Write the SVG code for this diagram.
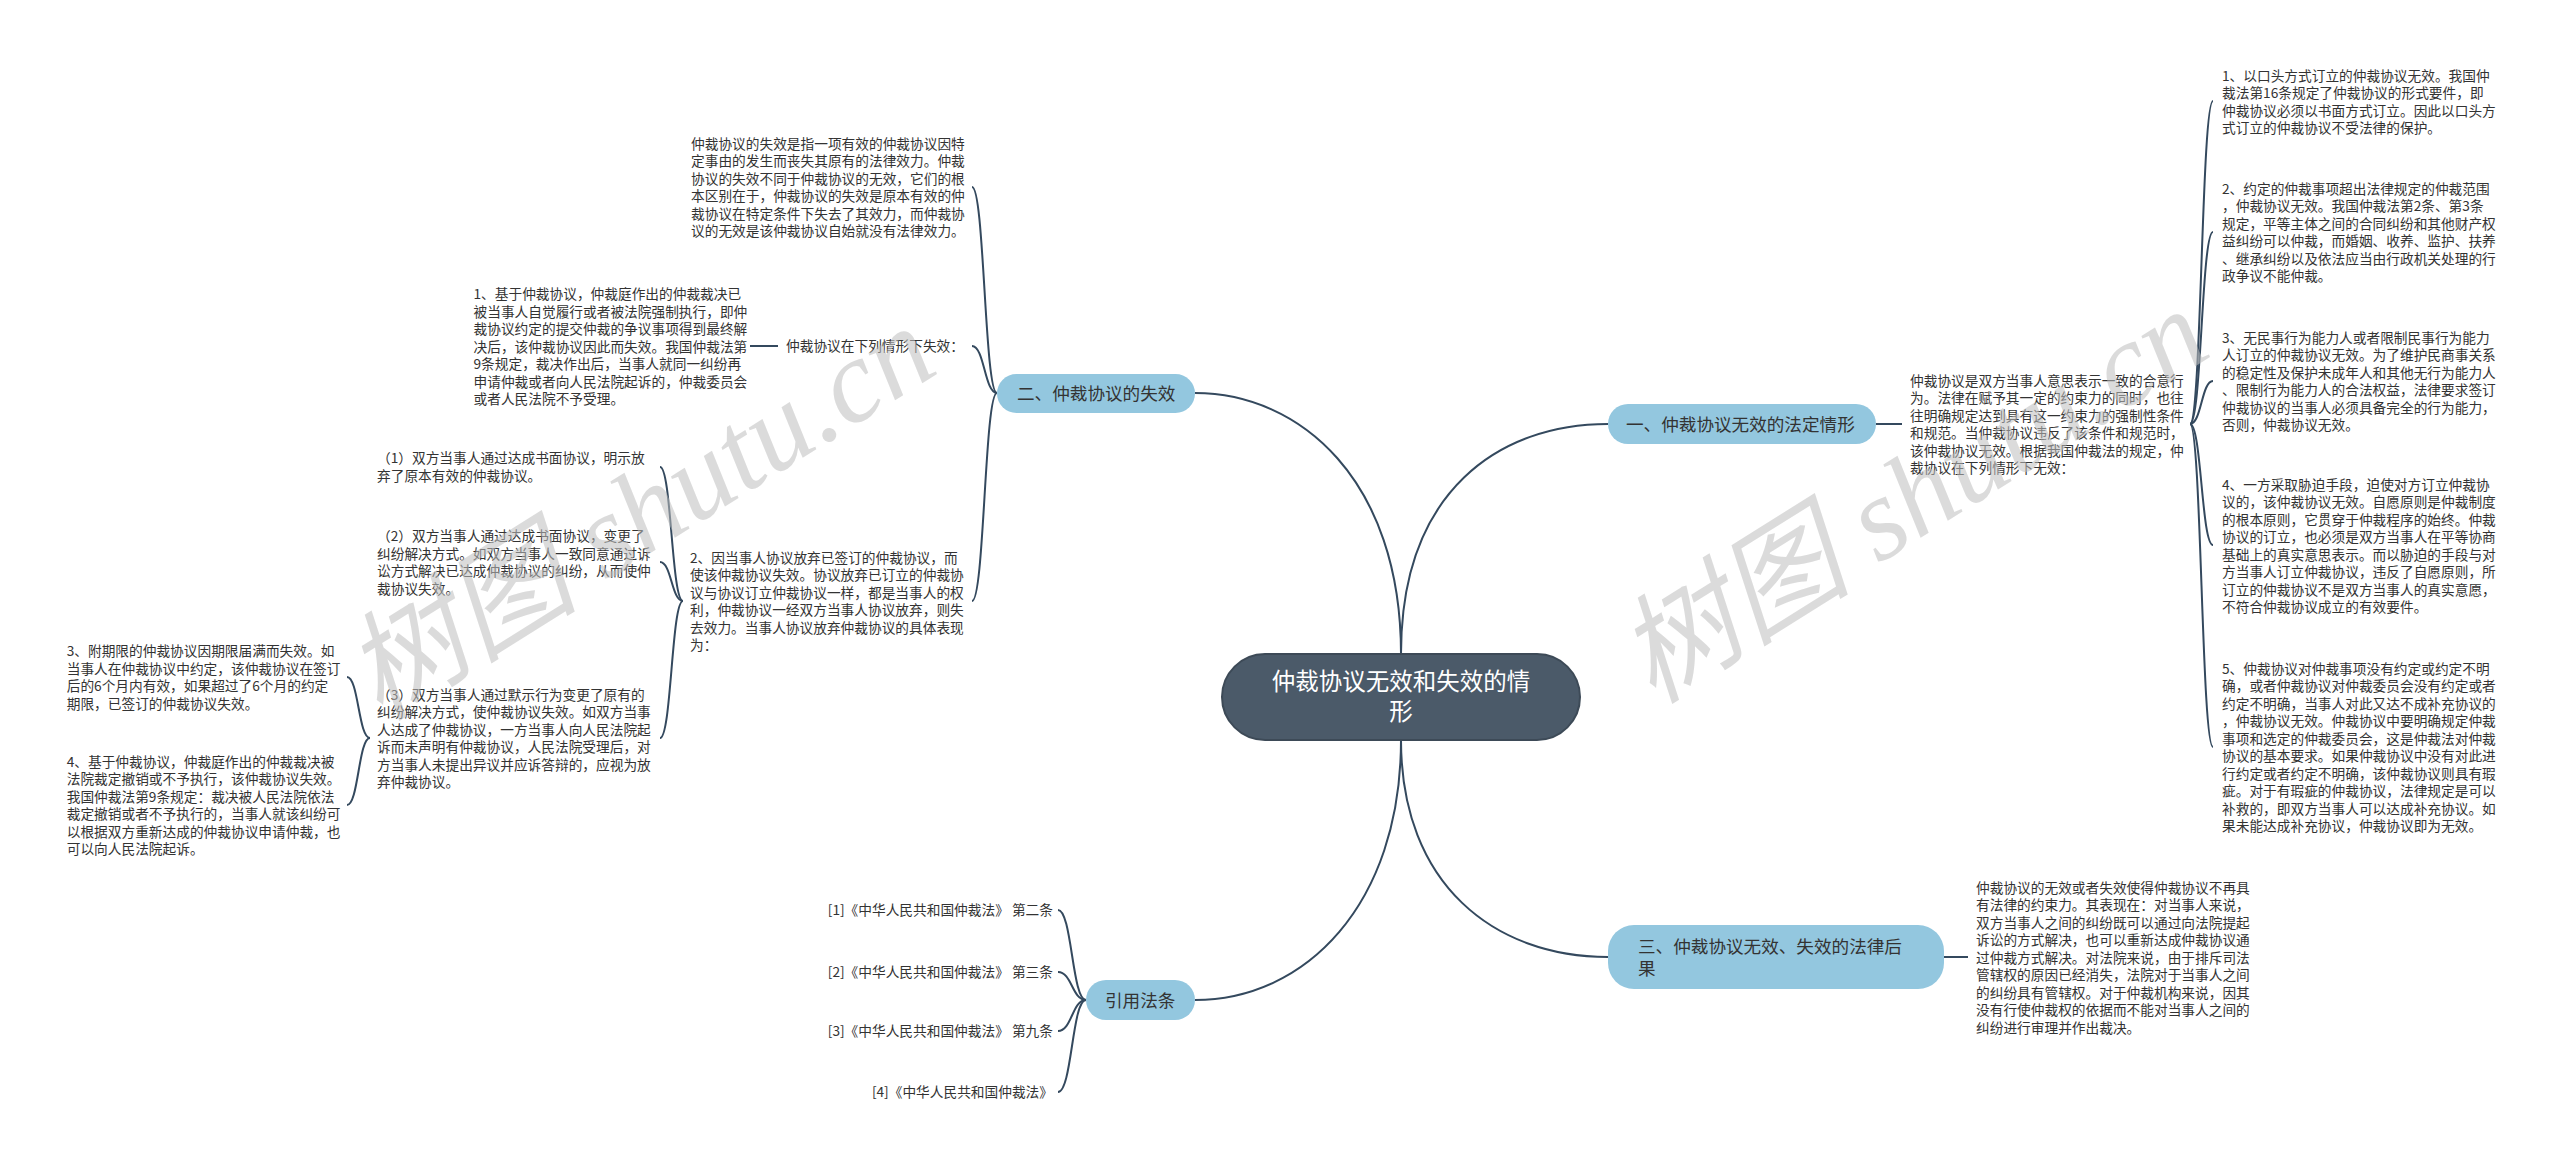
<svg xmlns="http://www.w3.org/2000/svg" width="2560" height="1165" viewBox="0 0 2560 1165">
<style>
.t{font-family:"Noto Sans CJK SC","Noto Sans",sans-serif;font-size:13.7px;fill:#333333;}
.b{font-family:"Noto Sans CJK SC","Noto Sans",sans-serif;font-size:17.6px;fill:#333333;}
.c{font-family:"Noto Sans CJK SC","Noto Sans",sans-serif;font-size:23.5px;fill:#ffffff;}
.bn{fill:#93c7df;}
.cn{fill:#4b5a69;stroke:#3d4a57;stroke-width:2;}
.ln{fill:none;stroke:#34495e;stroke-width:2;}
.wm{font-family:"Liberation Serif","Noto Sans CJK SC",serif;font-style:italic;font-size:118px;fill:#bdbdbd;fill-opacity:0.55;}
</style>
<rect width="2560" height="1165" fill="#ffffff"/>
<g id="connectors">
<path class="ln" d="M1401,654 C1401,480 1300,393 1195,393"/>
<path class="ln" d="M1401,654 C1401,490 1500,424 1608,424"/>
<path class="ln" d="M1401,740 C1401,905 1305,1000 1195,1000"/>
<path class="ln" d="M1401,740 C1401,885 1495,957 1608,957"/>
<path class="ln" d="M997,393 C984.5,393 984.5,187 972,187"/>
<path class="ln" d="M997,393 C984.5,393 984.5,346 972,346"/>
<path class="ln" d="M997,393 C984.5,393 984.5,601 972,601"/>
<path class="ln" d="M778,346 L750,346"/>
<path class="ln" d="M683,601 C671.5,601 671.5,467 660,467"/>
<path class="ln" d="M683,601 C671.5,601 671.5,562 660,562"/>
<path class="ln" d="M683,601 C671.5,601 671.5,738 660,738"/>
<path class="ln" d="M370,738 C358.5,738 358.5,677 347,677"/>
<path class="ln" d="M370,738 C358.5,738 358.5,805 347,805"/>
<path class="ln" d="M1086,1000 C1072,1000 1072,910 1058,910"/>
<path class="ln" d="M1086,1000 C1072,1000 1072,972 1058,972"/>
<path class="ln" d="M1086,1000 C1072,1000 1072,1031 1058,1031"/>
<path class="ln" d="M1086,1000 C1072,1000 1072,1092 1058,1092"/>
<path class="ln" d="M1876,424 L1902,424"/>
<path class="ln" d="M2190,424 C2201.5,424 2201.5,101 2213,101"/>
<path class="ln" d="M2190,424 C2201.5,424 2201.5,232 2213,232"/>
<path class="ln" d="M2190,424 C2201.5,424 2201.5,381 2213,381"/>
<path class="ln" d="M2190,424 C2201.5,424 2201.5,545 2213,545"/>
<path class="ln" d="M2190,424 C2201.5,424 2201.5,747 2213,747"/>
<path class="ln" d="M1944,957 L1968,957"/>
</g>
<g id="center">
<rect class="cn" x="1222" y="654" width="358" height="86" rx="43"/>
<text class="c" x="1401" y="690" text-anchor="middle">仲裁协议无效和失效的情</text>
<text class="c" x="1401" y="720" text-anchor="middle">形</text>
</g>
<g id="branch-2">
<rect class="bn" x="997" y="374" width="198" height="39" rx="19.5"/>
<text class="b" x="1017" y="400">二、仲裁协议的失效</text>
</g>
<g id="branch-1">
<rect class="bn" x="1608" y="404" width="268" height="40" rx="20"/>
<text class="b" x="1626" y="430.5">一、仲裁协议无效的法定情形</text>
</g>
<g id="branch-3">
<rect class="bn" x="1608" y="925" width="336" height="64" rx="26"/>
<text class="b" x="1638" y="952.5">三、仲裁协议无效、失效的法律后</text>
<text class="b" x="1638" y="974.5">果</text>
</g>
<g id="branch-4">
<rect class="bn" x="1086" y="980" width="109" height="40" rx="20"/>
<text class="b" x="1105" y="1006.5">引用法条</text>
</g>
<g id="n-def-loss">
<text class="t" x="691" y="148.5"><tspan x="691">仲裁协议的失效是指一项有效的仲裁协议因特</tspan><tspan x="691" dy="17.5">定事由的发生而丧失其原有的法律效力。仲裁</tspan><tspan x="691" dy="17.5">协议的失效不同于仲裁协议的无效，它们的根</tspan><tspan x="691" dy="17.5">本区别在于，仲裁协议的失效是原本有效的仲</tspan><tspan x="691" dy="17.5">裁协议在特定条件下失去了其效力，而仲裁协</tspan><tspan x="691" dy="17.5">议的无效是该仲裁协议自始就没有法律效力。</tspan></text>
</g>
<g id="n-loss-cases">
<text class="t" x="786" y="351">仲裁协议在下列情形下失效：</text>
</g>
<g id="n-loss-1">
<text class="t" x="473.5" y="299"><tspan x="473.5">1、基于仲裁协议，仲裁庭作出的仲裁裁决已</tspan><tspan x="473.5" dy="17.5">被当事人自觉履行或者被法院强制执行，即仲</tspan><tspan x="473.5" dy="17.5">裁协议约定的提交仲裁的争议事项得到最终解</tspan><tspan x="473.5" dy="17.5">决后，该仲裁协议因此而失效。我国仲裁法第</tspan><tspan x="473.5" dy="17.5">9条规定，裁决作出后，当事人就同一纠纷再</tspan><tspan x="473.5" dy="17.5">申请仲裁或者向人民法院起诉的，仲裁委员会</tspan><tspan x="473.5" dy="17.5">或者人民法院不予受理。</tspan></text>
</g>
<g id="n-loss-2">
<text class="t" x="690" y="562.5"><tspan x="690">2、因当事人协议放弃已签订的仲裁协议，而</tspan><tspan x="690" dy="17.5">使该仲裁协议失效。协议放弃已订立的仲裁协</tspan><tspan x="690" dy="17.5">议与协议订立仲裁协议一样，都是当事人的权</tspan><tspan x="690" dy="17.5">利，仲裁协议一经双方当事人协议放弃，则失</tspan><tspan x="690" dy="17.5">去效力。当事人协议放弃仲裁协议的具体表现</tspan><tspan x="690" dy="17.5">为：</tspan></text>
</g>
<g id="n-waive-1">
<text class="t" x="377" y="463"><tspan x="377">（1）双方当事人通过达成书面协议，明示放</tspan><tspan x="377" dy="17.5">弃了原本有效的仲裁协议。</tspan></text>
</g>
<g id="n-waive-2">
<text class="t" x="377" y="541"><tspan x="377">（2）双方当事人通过达成书面协议，变更了</tspan><tspan x="377" dy="17.5">纠纷解决方式。如双方当事人一致同意通过诉</tspan><tspan x="377" dy="17.5">讼方式解决已达成仲裁协议的纠纷，从而使仲</tspan><tspan x="377" dy="17.5">裁协议失效。</tspan></text>
</g>
<g id="n-waive-3">
<text class="t" x="377" y="699.5"><tspan x="377">（3）双方当事人通过默示行为变更了原有的</tspan><tspan x="377" dy="17.5">纠纷解决方式，使仲裁协议失效。如双方当事</tspan><tspan x="377" dy="17.5">人达成了仲裁协议，一方当事人向人民法院起</tspan><tspan x="377" dy="17.5">诉而未声明有仲裁协议，人民法院受理后，对</tspan><tspan x="377" dy="17.5">方当事人未提出异议并应诉答辩的，应视为放</tspan><tspan x="377" dy="17.5">弃仲裁协议。</tspan></text>
</g>
<g id="n-loss-3">
<text class="t" x="66.7" y="656"><tspan x="66.7">3、附期限的仲裁协议因期限届满而失效。如</tspan><tspan x="66.7" dy="17.5">当事人在仲裁协议中约定，该仲裁协议在签订</tspan><tspan x="66.7" dy="17.5">后的6个月内有效，如果超过了6个月的约定</tspan><tspan x="66.7" dy="17.5">期限，已签订的仲裁协议失效。</tspan></text>
</g>
<g id="n-loss-4">
<text class="t" x="66.7" y="766.5"><tspan x="66.7">4、基于仲裁协议，仲裁庭作出的仲裁裁决被</tspan><tspan x="66.7" dy="17.5">法院裁定撤销或不予执行，该仲裁协议失效。</tspan><tspan x="66.7" dy="17.5">我国仲裁法第9条规定：裁决被人民法院依法</tspan><tspan x="66.7" dy="17.5">裁定撤销或者不予执行的，当事人就该纠纷可</tspan><tspan x="66.7" dy="17.5">以根据双方重新达成的仲裁协议申请仲裁，也</tspan><tspan x="66.7" dy="17.5">可以向人民法院起诉。</tspan></text>
</g>
<g id="n-law-1"><text class="t" x="1053" y="915" text-anchor="end">[1]《中华人民共和国仲裁法》 第二条</text></g>
<g id="n-law-2"><text class="t" x="1053" y="977" text-anchor="end">[2]《中华人民共和国仲裁法》 第三条</text></g>
<g id="n-law-3"><text class="t" x="1053" y="1036" text-anchor="end">[3]《中华人民共和国仲裁法》 第九条</text></g>
<g id="n-law-4"><text class="t" x="1053" y="1097" text-anchor="end">[4]《中华人民共和国仲裁法》</text></g>
<g id="n-invalid-intro">
<text class="t" x="1910" y="385.5"><tspan x="1910">仲裁协议是双方当事人意思表示一致的合意行</tspan><tspan x="1910" dy="17.5">为。法律在赋予其一定的约束力的同时，也往</tspan><tspan x="1910" dy="17.5">往明确规定达到具有这一约束力的强制性条件</tspan><tspan x="1910" dy="17.5">和规范。当仲裁协议违反了该条件和规范时，</tspan><tspan x="1910" dy="17.5">该仲裁协议无效。根据我国仲裁法的规定，仲</tspan><tspan x="1910" dy="17.5">裁协议在下列情形下无效：</tspan></text>
</g>
<g id="n-invalid-1">
<text class="t" x="2222" y="80.5"><tspan x="2222">1、以口头方式订立的仲裁协议无效。我国仲</tspan><tspan x="2222" dy="17.5">裁法第16条规定了仲裁协议的形式要件，即</tspan><tspan x="2222" dy="17.5">仲裁协议必须以书面方式订立。因此以口头方</tspan><tspan x="2222" dy="17.5">式订立的仲裁协议不受法律的保护。</tspan></text>
</g>
<g id="n-invalid-2">
<text class="t" x="2222" y="193.5"><tspan x="2222">2、约定的仲裁事项超出法律规定的仲裁范围</tspan><tspan x="2222" dy="17.5">，仲裁协议无效。我国仲裁法第2条、第3条</tspan><tspan x="2222" dy="17.5">规定，平等主体之间的合同纠纷和其他财产权</tspan><tspan x="2222" dy="17.5">益纠纷可以仲裁，而婚姻、收养、监护、扶养</tspan><tspan x="2222" dy="17.5">、继承纠纷以及依法应当由行政机关处理的行</tspan><tspan x="2222" dy="17.5">政争议不能仲裁。</tspan></text>
</g>
<g id="n-invalid-3">
<text class="t" x="2222" y="342.5"><tspan x="2222">3、无民事行为能力人或者限制民事行为能力</tspan><tspan x="2222" dy="17.5">人订立的仲裁协议无效。为了维护民商事关系</tspan><tspan x="2222" dy="17.5">的稳定性及保护未成年人和其他无行为能力人</tspan><tspan x="2222" dy="17.5">、限制行为能力人的合法权益，法律要求签订</tspan><tspan x="2222" dy="17.5">仲裁协议的当事人必须具备完全的行为能力，</tspan><tspan x="2222" dy="17.5">否则，仲裁协议无效。</tspan></text>
</g>
<g id="n-invalid-4">
<text class="t" x="2222" y="489.5"><tspan x="2222">4、一方采取胁迫手段，迫使对方订立仲裁协</tspan><tspan x="2222" dy="17.5">议的，该仲裁协议无效。自愿原则是仲裁制度</tspan><tspan x="2222" dy="17.5">的根本原则，它贯穿于仲裁程序的始终。仲裁</tspan><tspan x="2222" dy="17.5">协议的订立，也必须是双方当事人在平等协商</tspan><tspan x="2222" dy="17.5">基础上的真实意思表示。而以胁迫的手段与对</tspan><tspan x="2222" dy="17.5">方当事人订立仲裁协议，违反了自愿原则，所</tspan><tspan x="2222" dy="17.5">订立的仲裁协议不是双方当事人的真实意愿，</tspan><tspan x="2222" dy="17.5">不符合仲裁协议成立的有效要件。</tspan></text>
</g>
<g id="n-invalid-5">
<text class="t" x="2222" y="673.5"><tspan x="2222">5、仲裁协议对仲裁事项没有约定或约定不明</tspan><tspan x="2222" dy="17.5">确，或者仲裁协议对仲裁委员会没有约定或者</tspan><tspan x="2222" dy="17.5">约定不明确，当事人对此又达不成补充协议的</tspan><tspan x="2222" dy="17.5">，仲裁协议无效。仲裁协议中要明确规定仲裁</tspan><tspan x="2222" dy="17.5">事项和选定的仲裁委员会，这是仲裁法对仲裁</tspan><tspan x="2222" dy="17.5">协议的基本要求。如果仲裁协议中没有对此进</tspan><tspan x="2222" dy="17.5">行约定或者约定不明确，该仲裁协议则具有瑕</tspan><tspan x="2222" dy="17.5">疵。对于有瑕疵的仲裁协议，法律规定是可以</tspan><tspan x="2222" dy="17.5">补救的，即双方当事人可以达成补充协议。如</tspan><tspan x="2222" dy="17.5">果未能达成补充协议，仲裁协议即为无效。</tspan></text>
</g>
<g id="n-consequence">
<text class="t" x="1976" y="892.5"><tspan x="1976">仲裁协议的无效或者失效使得仲裁协议不再具</tspan><tspan x="1976" dy="17.5">有法律的约束力。其表现在：对当事人来说，</tspan><tspan x="1976" dy="17.5">双方当事人之间的纠纷既可以通过向法院提起</tspan><tspan x="1976" dy="17.5">诉讼的方式解决，也可以重新达成仲裁协议通</tspan><tspan x="1976" dy="17.5">过仲裁方式解决。对法院来说，由于排斥司法</tspan><tspan x="1976" dy="17.5">管辖权的原因已经消失，法院对于当事人之间</tspan><tspan x="1976" dy="17.5">的纠纷具有管辖权。对于仲裁机构来说，因其</tspan><tspan x="1976" dy="17.5">没有行使仲裁权的依据而不能对当事人之间的</tspan><tspan x="1976" dy="17.5">纠纷进行审理并作出裁决。</tspan></text>
</g>
<g id="watermarks">
<text class="wm" x="380" y="722" transform="rotate(-32 380 722)">树图 shutu.cn</text>
<text class="wm" x="1653" y="705" transform="rotate(-32 1653 705)">树图 shutu.cn</text>
</g>
</svg>
